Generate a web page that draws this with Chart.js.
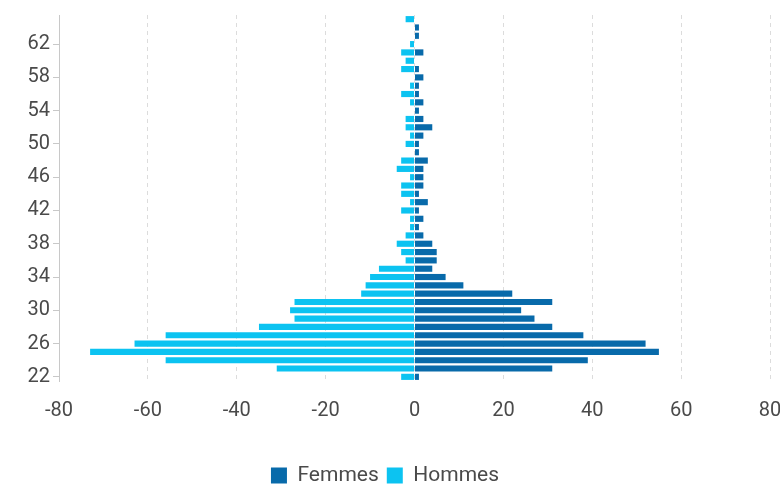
<!DOCTYPE html>
<html>
<head>
<meta charset="utf-8">
<script src="https://cdn.jsdelivr.net/npm/chart.js@4"></script>
<style>
  html, body { margin: 0; padding: 0; background: #fff; }
  #wrap { width: 780px; height: 490px; }
</style>
</head>
<body>
<div id="wrap"><canvas id="pyramid"></canvas></div>
<script>
// ages 22..65, bottom to top
const ages = [22, 23, 24, 25, 26, 27, 28, 29, 30, 31, 32, 33, 34, 35, 36, 37, 38, 39, 40, 41, 42, 43,
              44, 45, 46, 47, 48, 49, 50, 51, 52, 53, 54, 55, 56, 57, 58, 59, 60, 61, 62, 63, 64, 65];
const femmes = [1, 31, 39, 55, 52, 38, 31, 27, 24, 31, 22, 11, 7, 4, 5, 5, 4, 2, 1, 2, 1, 3,
                1, 2, 2, 2, 3, 1, 1, 2, 4, 2, 1, 2, 1, 1, 2, 1, 0, 2, 0, 1, 1, 0];
const hommes = [-3, -31, -56, -73, -63, -56, -35, -27, -28, -27, -12, -11, -10, -8, -2, -3, -4, -2, -1, -1, -3, -1,
                -3, -3, -1, -4, -3, 0, -2, -1, -2, -2, 0, -1, -3, -1, 0, -3, -2, -3, -1, 0, 0, -2];
const xTicks = [-80, -60, -40, -20, 0, 20, 40, 60, 80];

const tickFont = { family: 'Roboto', size: 20 };
const legendFont = { family: 'Roboto', size: 21 };

document.addEventListener('DOMContentLoaded', function() {
    const ctx = document.getElementById('pyramid').getContext('2d');
    new Chart(ctx, {
        type: 'bar',
        data: {
            labels: ages,
            datasets: [{
                label: 'Femmes',
                data: femmes,
                backgroundColor: '#086aaa',
                barPercentage: 0.74,
                categoryPercentage: 1
            }, {
                label: 'Hommes',
                data: hommes,
                backgroundColor: '#0cc3f1',
                barPercentage: 0.74,
                categoryPercentage: 1
            }]
        },
        options: {
            indexAxis: 'y',
            responsive: true,
            maintainAspectRatio: false,
            animation: false,
            layout: { padding: { top: 12, right: 10, bottom: -6, left: 0 } },
            scales: {
                x: {
                    stacked: true,
                    min: xTicks[0],
                    max: xTicks[xTicks.length - 1],
                    afterBuildTicks: (scale) => { scale.ticks = xTicks.map(v => ({ value: v })); },
                    afterFit: (scale) => {
                        scale.height = 76;
                        scale.paddingLeft = 0;
                        scale.paddingRight = 0;
                    },
                    grid: { color: '#dcdcdc', drawTicks: false },
                    border: { display: false, dash: [4, 4] },
                    ticks: { color: '#4a4a4a', font: tickFont, padding: 18 }
                },
                y: {
                    stacked: true,
                    reverse: true,
                    afterFit: (scale) => { scale.width = 59; },
                    grid: { drawOnChartArea: false, offset: false, color: '#c8c8c8', tickLength: 6 },
                    border: { color: '#c8c8c8' },
                    ticks: {
                        autoSkip: false,
                        color: '#4a4a4a',
                        font: tickFont,
                        padding: 3,
                        callback: (v, i) => ((ages[i] - 22) % 4 === 0 ? ages[i] : null)
                    }
                }
            },
            plugins: {
                tooltip: { enabled: false },
                legend: {
                    position: 'bottom',
                    labels: {
                        color: '#4a4a4a',
                        font: legendFont,
                        boxWidth: 16,
                        boxHeight: 16,
                        padding: 8
                    }
                }
            }
        }
    });
});
</script>
</body>
</html>
